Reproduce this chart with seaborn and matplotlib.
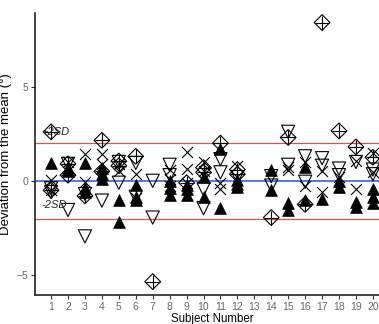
import matplotlib
matplotlib.use("Agg")
import matplotlib.pyplot as plt
import seaborn as sns
import pandas as pd

# Deviation of each trial from the subject mean, grouped by marker type
tri_up_subject = [1, 2, 2, 3, 3, 3, 4, 4, 4, 5, 5, 6, 6, 6, 8, 8, 8, 9, 9, 9,
                  10, 10, 11, 11, 12, 12, 12, 14, 14, 15, 15, 16, 16, 17,
                  18, 18, 19, 19, 20, 20, 20]
tri_up_value = [0.95, 0.7, 0.5, 0.95, -0.4, -0.6, 0.7, 0.35, 0.1, -1.0, -2.2,
                -0.2, -0.85, -1.0, 0.0, -0.4, -0.75, -0.2, -0.45, -0.75,
                0.2, -0.85, 1.7, -1.45, 0.05, -0.15, -0.35, 0.6, -0.5,
                -1.2, -1.55, 0.75, -1.0, -0.95, 0.0, -0.35, -1.1, -1.4,
                -0.45, -0.85, -1.2]

tri_down_subject = [1, 1, 2, 2, 3, 3, 4, 5, 5, 6, 6, 7, 7, 8, 8, 10, 10, 11, 11,
                    12, 14, 14, 15, 15, 16, 16, 17, 17, 18, 18, 19, 20, 20]
tri_down_value = [-0.4, -0.6, 0.9, -1.55, -0.7, -2.95, -1.05, 1.0, -0.1,
                  0.95, -0.85, 0.0, -1.95, 0.85, 0.3, -0.45, -1.45, 1.15, 0.45,
                  0.2, 0.25, -0.25, 2.6, 0.85, 1.3, -0.05, 1.2, 0.8, 0.65, 0.3,
                  1.0, 0.6, 0.35]

cross_subject = [1, 1, 2, 3, 3, 4, 4, 5, 5, 6, 6, 8, 8, 8, 9, 9, 9, 10, 10,
                 11, 11, 12, 15, 15, 16, 16, 17, 17, 18, 19, 19, 20, 20]
cross_value = [0.05, -0.5, 1.0, 1.4, -0.05, 1.4, 0.9, 0.9, 0.5, 0.35, -0.9,
               0.55, 0.1, -0.3, 1.55, 0.65, -0.1, 1.0, 0.5, -0.1, -0.45, 0.8,
               0.75, 0.6, 1.0, -0.25, 0.5, -0.6, 0.2, 1.05, -0.45, 1.5, 0.45]

diamond_subject = [1, 1, 2, 2, 3, 4, 4, 5, 5, 6, 7, 9, 10, 10, 11, 12, 12,
                   14, 15, 16, 17, 18, 19, 20]
diamond_value = [2.6, -0.5, 0.9, 0.3, -0.8, 2.15, 0.5, 1.05, 0.8, 1.3, -5.35,
                 -0.1, 0.7, 0.45, 2.0, 0.6, 0.35, -1.95, 2.3, -1.25, 8.4,
                 2.65, 1.8, 1.25]

x_ticks = list(range(1, 21))
y_ticks = [-5, 0, 5]
sd_limit = 2.0

sns.set_theme(style="ticks")
plt.rcParams["font.family"] = ["Liberation Sans", "DejaVu Sans"]

fig = plt.figure(figsize=(3.79, 3.24), dpi=100)
fig.patch.set_facecolor("white")
ax = fig.add_axes([0.0923, 0.0895, 0.934, 0.870])
ax.set_facecolor("white")

ax.axhline(sd_limit, color="#d9534f", lw=0.9, zorder=1)
ax.axhline(-sd_limit, color="#d9534f", lw=0.9, zorder=1)
ax.axhline(0, color="#3050d8", lw=1.1, zorder=1)

df_up = pd.DataFrame({"subject": tri_up_subject, "dev": tri_up_value})
df_down = pd.DataFrame({"subject": tri_down_subject, "dev": tri_down_value})
df_x = pd.DataFrame({"subject": cross_subject, "dev": cross_value})
df_d = pd.DataFrame({"subject": diamond_subject, "dev": diamond_value})

sns.scatterplot(data=df_d, x="subject", y="dev", marker="D", s=64,
                facecolor="none", edgecolor="black", linewidth=0.8, ax=ax, zorder=3)
sns.scatterplot(data=df_d, x="subject", y="dev", marker="+", s=90,
                color="black", linewidth=0.8, ax=ax, zorder=3)
sns.scatterplot(data=df_down, x="subject", y="dev", marker="v", s=90,
                facecolor="none", edgecolor="black", linewidth=0.8, ax=ax, zorder=3)
sns.scatterplot(data=df_x, x="subject", y="dev", marker="x", s=62,
                color="black", linewidth=0.8, ax=ax, zorder=3)
sns.scatterplot(data=df_up, x="subject", y="dev", marker="^", s=72,
                color="black", edgecolor="black", linewidth=0.5, ax=ax, zorder=4)

ax.text(1.25, 2.6, "+2SD", style="italic", fontsize=8, ha="center",
        va="center", color="#222222", zorder=5)
ax.text(1.15, -1.28, "-2SD", style="italic", fontsize=8, ha="center",
        va="center", color="#222222", zorder=5)

ax.set_xlim(0.05, 20.95)
ax.set_ylim(-6.06, 8.9)
ax.set_xticks(x_ticks)
ax.set_yticks(y_ticks)
ax.tick_params(axis="both", which="both", direction="out", length=3, width=0.8,
               labelsize=7.5, color="#333333", labelcolor="#666666",
               top=False, right=False, pad=2)
for side in ["top", "right"]:
    ax.spines[side].set_visible(False)
for side in ["left", "bottom"]:
    ax.spines[side].set_color("#222222")
    ax.spines[side].set_linewidth(1.2)
ax.grid(False)
ax.set_xlabel("Subject Number", fontsize=8.3, color="black", labelpad=0.5)
ax.set_ylabel("Deviation from the mean (°)", fontsize=9.5, color="black", labelpad=3)

fig.savefig("out.png", dpi=100, facecolor="white")
